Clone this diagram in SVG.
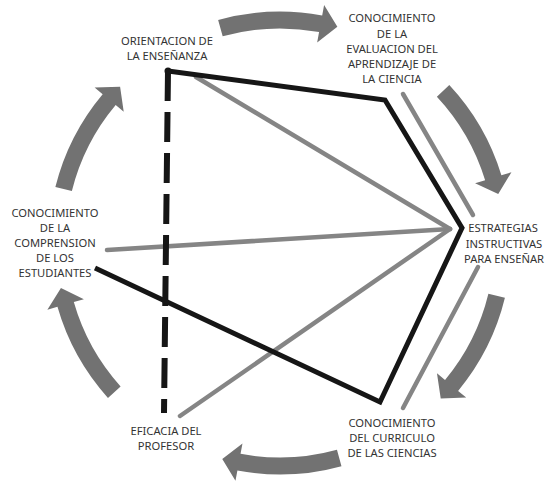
<svg xmlns="http://www.w3.org/2000/svg" xmlns:xlink="http://www.w3.org/1999/xlink" width="545" height="481" viewBox="0 0 545 481">
<style>
.lbl{font-family:"Noto Sans","Liberation Sans",sans-serif;font-size:11.2px;fill:#333;text-anchor:middle}
.arr{fill:#727272}
.grey{stroke:#858585;stroke-width:4.5;fill:none;stroke-linecap:round}
.black{stroke:#161616;stroke-width:5;fill:none;stroke-linejoin:miter}
</style>
<defs>
<path id="arrow" class="arr" d="M231.5 0 A231.5 231.5 0 0 1 208.07 101.49 L217.51 106.09 L192.98 113.04 L183.36 89.43 L192.79 94.03 A214.5 214.5 0 0 0 214.5 0 Z"/>
</defs>
<rect width="545" height="481" fill="#fff"/>
<g id="cycle-arrows">
<use xlink:href="#arrow" href="#arrow" transform="translate(280,243) rotate(-105.5)"/>
<use xlink:href="#arrow" href="#arrow" transform="translate(280,243) rotate(-43)"/>
<use xlink:href="#arrow" href="#arrow" transform="translate(280,243) rotate(13.7)"/>
<use xlink:href="#arrow" href="#arrow" transform="translate(280,243) rotate(74.6)"/>
<use xlink:href="#arrow" href="#arrow" transform="translate(280,243) rotate(138)"/>
<use xlink:href="#arrow" href="#arrow" transform="translate(280,243) rotate(-166)"/>
</g>
<g id="connectors">
<line class="grey" x1="196" y1="77" x2="450" y2="229"/>
<line class="grey" x1="107" y1="250" x2="450" y2="229"/>
<line class="grey" x1="180" y1="416" x2="450" y2="229"/>
<line class="grey" x1="403" y1="94" x2="473" y2="215"/>
<line class="grey" x1="478" y1="267" x2="403" y2="408"/>
<line x1="168" y1="71" x2="164" y2="413" stroke="#161616" stroke-width="6" stroke-dasharray="30 11"/>
<path class="black" d="M168 71 L385 100 L462 228 L380 402 L95 268"/>
<circle cx="168" cy="71" r="3.5" fill="#161616"/>
</g>
<g id="orientacion">
<text class="lbl" x="167" y="45">ORIENTACION DE</text>
<text class="lbl" x="167" y="60">LA ENSEÑANZA</text>
</g>
<g id="evaluacion">
<text class="lbl" x="392" y="22">CONOCIMIENTO</text>
<text class="lbl" x="392" y="37.5">DE LA</text>
<text class="lbl" x="392" y="53">EVALUACION DEL</text>
<text class="lbl" x="392" y="68">APRENDIZAJE DE</text>
<text class="lbl" x="392" y="83">LA CIENCIA</text>
</g>
<g id="estrategias">
<text class="lbl" x="503" y="232">ESTRATEGIAS</text>
<text class="lbl" x="504" y="248">INSTRUCTIVAS</text>
<text class="lbl" x="504" y="263">PARA ENSEÑAR</text>
</g>
<g id="curriculo">
<text class="lbl" x="392" y="427">CONOCIMIENTO</text>
<text class="lbl" x="392" y="442">DEL CURRICULO</text>
<text class="lbl" x="392" y="457">DE LAS CIENCIAS</text>
</g>
<g id="eficacia">
<text class="lbl" x="166" y="435">EFICACIA DEL</text>
<text class="lbl" x="166" y="450">PROFESOR</text>
</g>
<g id="comprension">
<text class="lbl" x="55" y="217">CONOCIMIENTO</text>
<text class="lbl" x="55" y="232">DE LA</text>
<text class="lbl" x="55" y="247">COMPRENSION</text>
<text class="lbl" x="55" y="262">DE LOS</text>
<text class="lbl" x="55" y="277">ESTUDIANTES</text>
</g>
</svg>
